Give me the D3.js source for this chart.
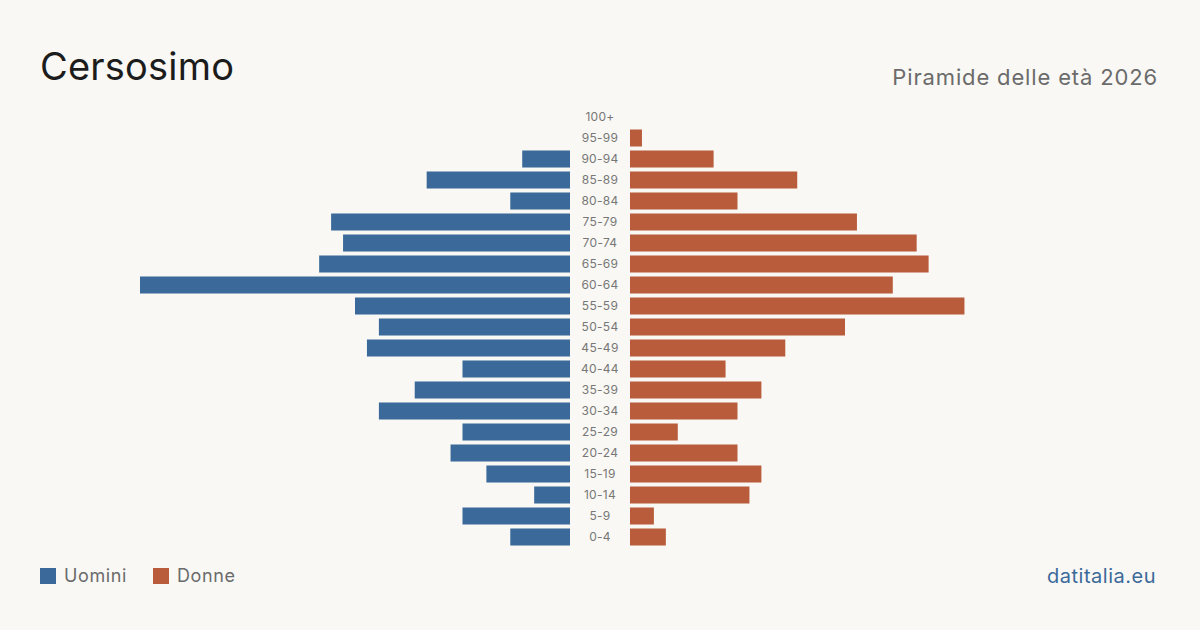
<!DOCTYPE html>
<html>
<head>
<meta charset="utf-8">
<script src="https://cdn.jsdelivr.net/npm/d3@7"></script>
<style>
  body { margin: 0; background: #f9f8f4; }
  svg { display: block; font-family: Inter, "Noto Sans", sans-serif; }
</style>
</head>
<body>
<div class="box"></div>
<script>
// data (top to bottom)
const ageGroups = ['100+', '95-99', '90-94', '85-89', '80-84', '75-79', '70-74', '65-69',
  '60-64', '55-59', '50-54', '45-49', '40-44', '35-39', '30-34', '25-29',
  '20-24', '15-19', '10-14', '5-9', '0-4'];
const men   = [0, 0, 4, 12, 5, 20, 19, 21, 36, 18, 16, 17, 9, 13, 16, 9, 10, 7, 3, 9, 5];
const women = [0, 1, 7, 14, 9, 19, 24, 25, 22, 28, 18, 13, 8, 11, 9, 4, 9, 11, 10, 2, 3];

const W = 1200, H = 630;
const blue = '#3b6a9a', orange = '#b95c3b';

const svg = d3.select('.box')
              .append('svg')
              .attr('width', W)
              .attr('height', H)
              .style('background', '#f9f8f4');

// titles
svg.append('text')
   .attr('x', 40).attr('y', 80)
   .text('Cersosimo')
   .style('font-size', '38px')
   .style('letter-spacing', '0.2px')
   .style('fill', '#1c1c1c');

svg.append('text')
   .attr('x', 1158).attr('y', 85)
   .attr('text-anchor', 'end')
   .text('Piramide delle età 2026')
   .style('font-size', '22px')
   .style('letter-spacing', '0.85px')
   .style('fill', '#6b6b6b');

// scales
const y = d3.scaleBand()
            .domain(ageGroups)
            .range([106.5, 547.5])
            .paddingInner(0.19)
            .paddingOuter(0.095);

const maxVal = d3.max(men.concat(women));
const xLen = d3.scaleLinear().domain([0, maxVal]).range([0, 430]);

const centerLeft = 570, centerRight = 630;

const rows = ageGroups.map((g, i) => ({ group: g, m: men[i], f: women[i] }));

// men bars
svg.append('g').selectAll('rect')
   .data(rows.filter(d => d.m > 0))
   .enter().append('rect')
   .attr('x', d => centerLeft - xLen(d.m))
   .attr('y', d => y(d.group))
   .attr('width', d => xLen(d.m))
   .attr('height', y.bandwidth())
   .attr('fill', blue);

// women bars
svg.append('g').selectAll('rect')
   .data(rows.filter(d => d.f > 0))
   .enter().append('rect')
   .attr('x', centerRight)
   .attr('y', d => y(d.group))
   .attr('width', d => xLen(d.f))
   .attr('height', y.bandwidth())
   .attr('fill', orange);

// age labels in the middle
svg.append('g').selectAll('text')
   .data(ageGroups)
   .enter().append('text')
   .attr('x', 600)
   .attr('y', d => y(d) + y.bandwidth() / 2)
   .attr('dy', '0.35em')
   .attr('text-anchor', 'middle')
   .text(d => d)
   .style('font-size', '12px')
   .style('letter-spacing', '0.3px')
   .style('fill', '#777');

// legend
const legend = [{ name: 'Uomini', color: blue, x: 40 }, { name: 'Donne', color: orange, x: 153 }];
const lg = svg.append('g').selectAll('g')
              .data(legend)
              .enter().append('g')
              .attr('transform', d => `translate(${d.x}, 568)`);
lg.append('rect').attr('width', 16).attr('height', 16).attr('fill', d => d.color);
lg.append('text')
  .attr('x', 24).attr('y', 8).attr('dy', '0.35em')
  .text(d => d.name)
  .style('font-size', '18px')
  .style('letter-spacing', '0.6px')
  .style('fill', '#6b6b6b');

// source
svg.append('text')
   .attr('x', 1156).attr('y', 583)
   .attr('text-anchor', 'end')
   .text('datitalia.eu')
   .style('font-size', '20px')
   .style('letter-spacing', '0.5px')
   .style('fill', blue);
</script>
</body>
</html>
